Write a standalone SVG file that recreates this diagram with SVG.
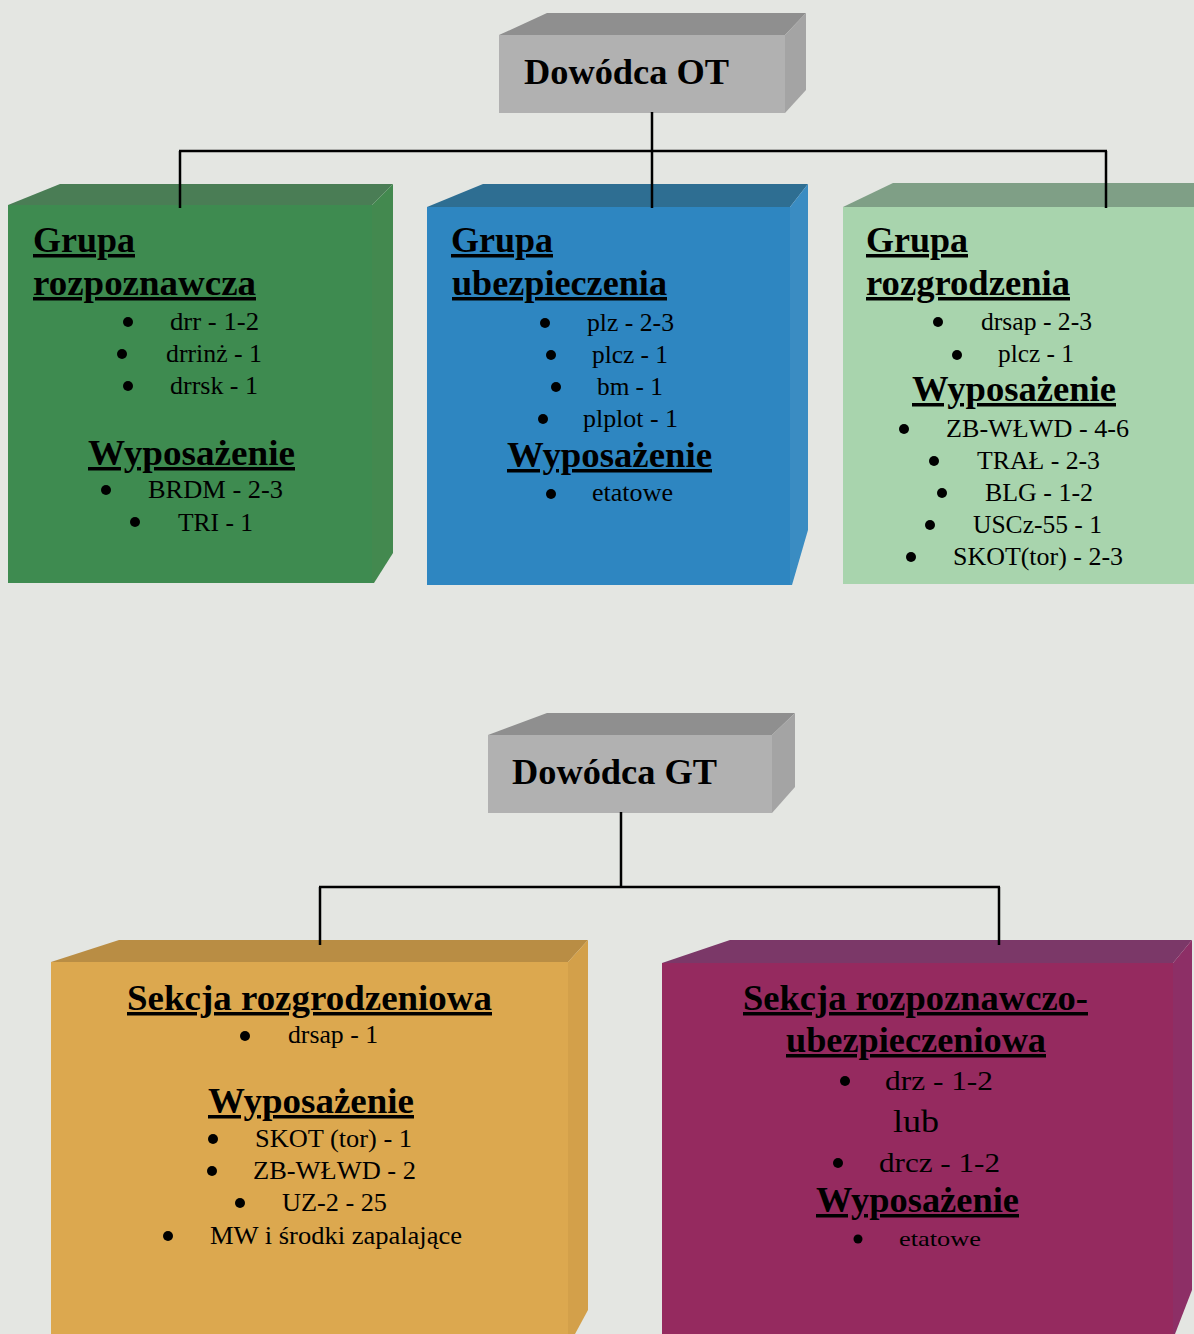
<svg xmlns="http://www.w3.org/2000/svg" width="1194" height="1334" viewBox="0 0 1194 1334">
<style>
.h{font-family:"Liberation Serif","Times New Roman",serif;font-weight:bold;font-size:35px;fill:#000;text-decoration:underline;}
.t{font-family:"Liberation Serif","Times New Roman",serif;font-weight:bold;font-size:36px;fill:#000;}
.i{font-family:"Liberation Serif","Times New Roman",serif;font-size:25px;fill:#000;}
.b{fill:#000;}
.c{stroke:#000;stroke-width:2.5;fill:none;}
</style>
<rect x="0" y="0" width="1194" height="1334" fill="#e4e6e2"/>

<g id="dowodca-ot">
<polygon points="499,35 547,13 806,13 785,35" fill="#8f8f8f"/>
<polygon points="785,35 806,13 806,90 785,113" fill="#a4a4a4"/>
<rect x="499" y="35" width="286" height="78" fill="#b1b1b1"/>
<text class="t" x="524" y="84" textLength="205" lengthAdjust="spacingAndGlyphs">Dowódca OT</text>
</g>

<g id="grupa-rozpoznawcza">
<polygon points="8,205 60,184 393,184 372,205" fill="#4a7d55"/>
<polygon points="372,205 393,184 393,553 374,583 372,583" fill="#43894f"/>
<rect x="8" y="205" width="364" height="378" fill="#3e8b50"/>
<text class="h" x="33" y="252" textLength="102" lengthAdjust="spacingAndGlyphs">Grupa</text>
<text class="h" x="33" y="295" textLength="223" lengthAdjust="spacingAndGlyphs">rozpoznawcza</text>
<circle class="b" cx="128" cy="322" r="5"/><text class="i" x="170" y="330" textLength="89" lengthAdjust="spacingAndGlyphs">drr - 1-2</text>
<circle class="b" cx="122" cy="354" r="5"/><text class="i" x="166" y="362" textLength="96" lengthAdjust="spacingAndGlyphs">drrinż - 1</text>
<circle class="b" cx="128" cy="386" r="5"/><text class="i" x="170" y="394" textLength="88" lengthAdjust="spacingAndGlyphs">drrsk - 1</text>
<text class="h" x="88" y="465" textLength="207" lengthAdjust="spacingAndGlyphs">Wyposażenie</text>
<circle class="b" cx="106" cy="490" r="5"/><text class="i" x="148" y="498" textLength="135" lengthAdjust="spacingAndGlyphs">BRDM - 2-3</text>
<circle class="b" cx="135" cy="522" r="5"/><text class="i" x="178" y="531" textLength="75" lengthAdjust="spacingAndGlyphs">TRI - 1</text>
</g>

<g id="grupa-ubezpieczenia">
<polygon points="427,207 483,184 808,184 790,207" fill="#2e6e92"/>
<polygon points="790,207 808,184 808,530 792,585 790,585" fill="#3a8cc2"/>
<rect x="427" y="207" width="363" height="378" fill="#2e86c1"/>
<text class="h" x="451" y="252" textLength="102" lengthAdjust="spacingAndGlyphs">Grupa</text>
<text class="h" x="452" y="295" textLength="215" lengthAdjust="spacingAndGlyphs">ubezpieczenia</text>
<circle class="b" cx="545" cy="323" r="5"/><text class="i" x="587" y="331" textLength="87" lengthAdjust="spacingAndGlyphs">plz - 2-3</text>
<circle class="b" cx="551" cy="355" r="5"/><text class="i" x="592" y="363" textLength="76" lengthAdjust="spacingAndGlyphs">plcz - 1</text>
<circle class="b" cx="556" cy="387" r="5"/><text class="i" x="597" y="395" textLength="66" lengthAdjust="spacingAndGlyphs">bm - 1</text>
<circle class="b" cx="543" cy="419" r="5"/><text class="i" x="583" y="427" textLength="95" lengthAdjust="spacingAndGlyphs">plplot - 1</text>
<text class="h" x="507" y="467" textLength="205" lengthAdjust="spacingAndGlyphs">Wyposażenie</text>
<circle class="b" cx="551" cy="494" r="5"/><text class="i" x="592" y="501" textLength="81" lengthAdjust="spacingAndGlyphs">etatowe</text>
</g>

<g id="grupa-rozgrodzenia">
<polygon points="843,207 893,183 1194,183 1194,207" fill="#7f9f86"/>
<rect x="843" y="207" width="351" height="377" fill="#a8d4ad"/>
<text class="h" x="866" y="252" textLength="102" lengthAdjust="spacingAndGlyphs">Grupa</text>
<text class="h" x="866" y="295" textLength="204" lengthAdjust="spacingAndGlyphs">rozgrodzenia</text>
<circle class="b" cx="938" cy="322" r="5"/><text class="i" x="981" y="330" textLength="111" lengthAdjust="spacingAndGlyphs">drsap - 2-3</text>
<circle class="b" cx="957" cy="355" r="5"/><text class="i" x="998" y="362" textLength="76" lengthAdjust="spacingAndGlyphs">plcz - 1</text>
<text class="h" x="912" y="401" textLength="204" lengthAdjust="spacingAndGlyphs">Wyposażenie</text>
<circle class="b" cx="904" cy="429" r="5"/><text class="i" x="946" y="437" textLength="183" lengthAdjust="spacingAndGlyphs">ZB-WŁWD - 4-6</text>
<circle class="b" cx="934" cy="461" r="5"/><text class="i" x="977" y="469" textLength="123" lengthAdjust="spacingAndGlyphs">TRAŁ - 2-3</text>
<circle class="b" cx="942" cy="493" r="5"/><text class="i" x="985" y="501" textLength="108" lengthAdjust="spacingAndGlyphs">BLG - 1-2</text>
<circle class="b" cx="930" cy="525" r="5"/><text class="i" x="973" y="533" textLength="129" lengthAdjust="spacingAndGlyphs">USCz-55 - 1</text>
<circle class="b" cx="911" cy="557" r="5"/><text class="i" x="953" y="565" textLength="170" lengthAdjust="spacingAndGlyphs">SKOT(tor) - 2-3</text>
</g>

<g id="dowodca-gt">
<polygon points="488,735 547,713 795,713 772,735" fill="#8f8f8f"/>
<polygon points="772,735 795,713 795,787 772,813" fill="#a4a4a4"/>
<rect x="488" y="735" width="284" height="78" fill="#b1b1b1"/>
<text class="t" x="512" y="784" textLength="205" lengthAdjust="spacingAndGlyphs">Dowódca GT</text>
</g>

<g id="sekcja-rozgrodzeniowa">
<polygon points="51,962 119,940 588,940 568,962" fill="#b98d44"/>
<polygon points="568,962 588,940 588,1310 575,1334 568,1334" fill="#d3a04a"/>
<rect x="51" y="962" width="517" height="372" fill="#dca84f"/>
<text class="h" x="127" y="1010" textLength="365" lengthAdjust="spacingAndGlyphs">Sekcja rozgrodzeniowa</text>
<circle class="b" cx="245" cy="1036" r="5"/><text class="i" x="288" y="1043" textLength="90" lengthAdjust="spacingAndGlyphs">drsap - 1</text>
<text class="h" x="208" y="1113" textLength="206" lengthAdjust="spacingAndGlyphs">Wyposażenie</text>
<circle class="b" cx="213" cy="1139" r="5"/><text class="i" x="255" y="1147" textLength="157" lengthAdjust="spacingAndGlyphs">SKOT (tor) - 1</text>
<circle class="b" cx="212" cy="1171" r="5"/><text class="i" x="253" y="1179" textLength="163" lengthAdjust="spacingAndGlyphs">ZB-WŁWD - 2</text>
<circle class="b" cx="240" cy="1203" r="5"/><text class="i" x="282" y="1211" textLength="105" lengthAdjust="spacingAndGlyphs">UZ-2 - 25</text>
<circle class="b" cx="168" cy="1236" r="5"/><text class="i" x="210" y="1244" textLength="252" lengthAdjust="spacingAndGlyphs">MW i środki zapalające</text>
</g>

<g id="sekcja-rozpoznawczo-ubezpieczeniowa">
<polygon points="662,963 730,940 1192,940 1173,963" fill="#7b3868"/>
<polygon points="1173,963 1192,940 1192,1290 1175,1334 1173,1334" fill="#8d2f66"/>
<rect x="662" y="963" width="511" height="371" fill="#952a5f"/>
<text class="h" x="743" y="1010" textLength="345" lengthAdjust="spacingAndGlyphs">Sekcja rozpoznawczo-</text>
<text class="h" x="786" y="1052" textLength="260" lengthAdjust="spacingAndGlyphs">ubezpieczeniowa</text>
<circle class="b" cx="845" cy="1081" r="5"/><text class="i" x="885" y="1090" style="font-size:27px" textLength="108" lengthAdjust="spacingAndGlyphs">drz - 1-2</text>
<text class="i" x="893" y="1132" style="font-size:32px" textLength="46" lengthAdjust="spacingAndGlyphs">lub</text>
<circle class="b" cx="838" cy="1163" r="5"/><text class="i" x="879" y="1172" style="font-size:27px" textLength="121" lengthAdjust="spacingAndGlyphs">drcz - 1-2</text>
<text class="h" x="816" y="1212" textLength="203" lengthAdjust="spacingAndGlyphs">Wyposażenie</text>
<circle class="b" cx="858" cy="1239" r="4.5"/><text class="i" x="899" y="1246" style="font-size:22px" textLength="82" lengthAdjust="spacingAndGlyphs">etatowe</text>
</g>

<g id="connectors">
<line class="c" x1="652" y1="112" x2="652" y2="208"/>
<line class="c" x1="179" y1="151" x2="1107" y2="151"/>
<line class="c" x1="180" y1="151" x2="180" y2="208"/>
<line class="c" x1="1106" y1="151" x2="1106" y2="208"/>
<line class="c" x1="621" y1="812" x2="621" y2="887"/>
<line class="c" x1="319" y1="887" x2="1000" y2="887"/>
<line class="c" x1="320" y1="887" x2="320" y2="945"/>
<line class="c" x1="999" y1="887" x2="999" y2="945"/>
</g>
</svg>
